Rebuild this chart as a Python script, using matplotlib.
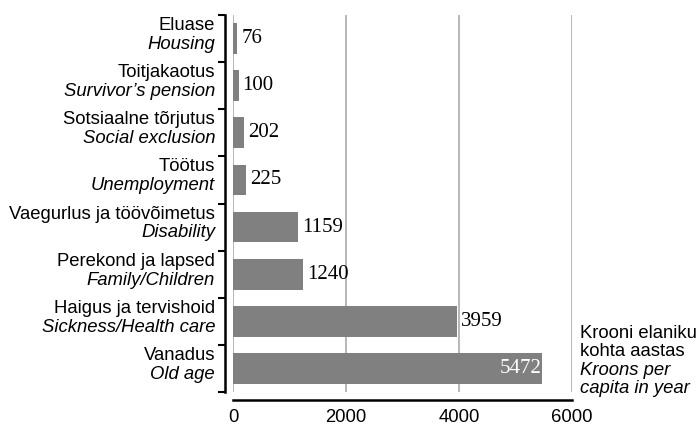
import matplotlib
matplotlib.use("Agg")
import matplotlib.pyplot as plt
import matplotlib.transforms as mtransforms
import numpy as np

categories_et = ["Eluase", "Toitjakaotus", "Sotsiaalne tõrjutus", "Töötus",
                 "Vaegurlus ja töövõimetus", "Perekond ja lapsed",
                 "Haigus ja tervishoid", "Vanadus"]
categories_en = ["Housing", "Survivor’s pension", "Social exclusion", "Unemployment",
                 "Disability", "Family/Children", "Sickness/Health care", "Old age"]
values = [76, 100, 202, 225, 1159, 1240, 3959, 5472]
xticks = [0, 2000, 4000, 6000]
unit_label = ["Krooni elaniku", "kohta aastas", "Kroons per", "capita in year"]

SANS = "Liberation Sans"
SERIF = "Liberation Serif"

fig = plt.figure(figsize=(6.96, 4.26), dpi=100)
ax = fig.add_axes([233/696, 34/426, 339/696, 377/426])

y = np.arange(len(values))
ax.barh(y, values, height=0.65, color="#808080", zorder=3)
ax.set_xlim(0, 6000)
ax.set_ylim(len(values) - 0.5, -0.5)

ax.set_xticks(xticks)
ax.set_xticks([0, 6000], minor=True)
ax.tick_params(axis="x", which="major", length=0, pad=6,
               labelsize=13.3, labelfontfamily=SANS)
ax.tick_params(axis="x", which="minor", direction="in", length=4, width=1.5)
ax.grid(axis="x", which="major", color="#aaaaaa", linewidth=1.2, zorder=0)
for gl in ax.get_xgridlines():
    gl.set_clip_on(False)

ax.set_yticks(np.arange(len(values) + 1) - 0.5)
ax.set_yticklabels([])
ax.tick_params(axis="y", direction="out", length=5, width=1.5)

for s in ["top", "right"]:
    ax.spines[s].set_visible(False)
ax.spines["left"].set_position(("outward", 6))
ax.spines["bottom"].set_position(("outward", 6))
ax.spines["left"].set_linewidth(1.8)
ax.spines["bottom"].set_linewidth(1.8)
ax.spines["left"].set_bounds(-0.5, len(values) - 0.5)
ax.spines["bottom"].set_bounds(0, 6000)

trans = mtransforms.blended_transform_factory(ax.transAxes, ax.transData)
for i, (et, en) in enumerate(zip(categories_et, categories_en)):
    ax.text(-0.053, i - 0.18, et, transform=trans, ha="right", va="baseline",
            fontfamily=SANS, fontsize=13.3)
    ax.text(-0.053, i + 0.22, en, transform=trans, ha="right", va="baseline",
            fontfamily=SANS, fontsize=13.3, style="italic")

offset = mtransforms.ScaledTranslation(4/100, 0, fig.dpi_scale_trans)
offset_in = mtransforms.ScaledTranslation(-1/100, 0, fig.dpi_scale_trans)
for i, v in enumerate(values):
    if v == max(values):
        ax.text(v, i, str(v), transform=ax.transData + offset_in, ha="right", va="center",
                fontfamily=SERIF, fontsize=15, color="white", zorder=4)
    else:
        ax.text(v, i, str(v), transform=ax.transData + offset, ha="left", va="center",
                fontfamily=SERIF, fontsize=15, color="black", zorder=4)

for k, line in enumerate(unit_label):
    fig.text(580/696, 1 - (338 + 18.3*k)/426, line, ha="left", va="baseline",
             fontfamily=SANS, fontsize=13.3, style="italic" if k >= 2 else "normal")

fig.savefig("out.png", dpi=100)
